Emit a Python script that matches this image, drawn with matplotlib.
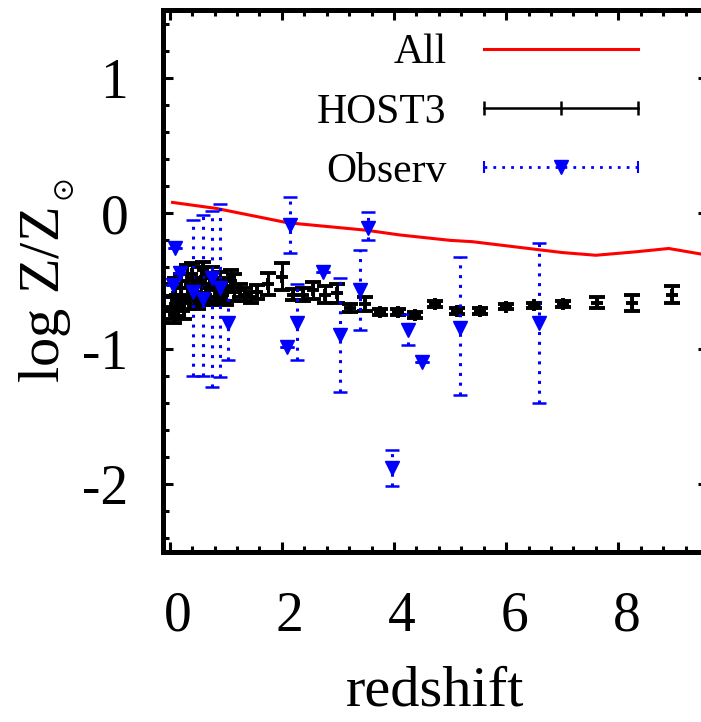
import matplotlib
matplotlib.use("Agg")
import matplotlib.pyplot as plt
from matplotlib.lines import Line2D
from matplotlib.legend_handler import HandlerLine2D
from matplotlib.ticker import MultipleLocator
from matplotlib.transforms import ScaledTranslation

plt.rcParams['font.family'] = ['Liberation Serif', 'DejaVu Serif']
plt.rcParams['mathtext.fontset'] = 'stix'
plt.rcParams['axes.unicode_minus'] = False

# "All" model curve
all_z = [0.05, 0.84, 2.1, 3.5, 4.1, 5.0, 5.4, 6.2, 7.0, 7.6, 8.3, 8.9, 9.6]
all_logz = [0.08, 0.035, -0.07, -0.125, -0.16, -0.2, -0.21, -0.25, -0.29, -0.31, -0.285, -0.26, -0.31]

# HOST3 with errors
host_z = [0.02, 0.05, 0.08, 0.1, 0.15, 0.2, 0.25, 0.3, 0.35, 0.4, 0.45, 0.5, 0.55,
          0.6, 0.65, 0.7, 0.75, 0.8, 0.85, 0.9, 0.95, 1.0, 1.1, 1.15, 1.25, 1.35,
          1.45, 1.55, 1.75, 2.0, 2.2, 2.38, 2.55, 2.77, 2.98, 3.21, 3.48, 3.75,
          4.07, 4.38, 4.73, 5.12, 5.54, 6.0, 6.49, 7.02, 7.62, 8.25, 8.96]
host_logz = [-0.7, -0.62, -0.75, -0.6, -0.68, -0.55, -0.72, -0.5, -0.63, -0.45, -0.58,
             -0.65, -0.5, -0.42, -0.6, -0.55, -0.48, -0.62, -0.57, -0.53, -0.6, -0.58,
             -0.5, -0.55, -0.57, -0.6, -0.62, -0.58, -0.52, -0.47, -0.6, -0.6, -0.57,
             -0.6, -0.59, -0.7, -0.67, -0.73, -0.73, -0.75, -0.67, -0.72, -0.72, -0.69,
             -0.68, -0.67, -0.66, -0.66, -0.6]
host_err = [0.08, 0.1, 0.06, 0.12, 0.08, 0.1, 0.06, 0.12, 0.08, 0.08, 0.1, 0.06, 0.1,
            0.06, 0.08, 0.1, 0.08, 0.06, 0.08, 0.1, 0.06, 0.1, 0.08, 0.1, 0.05, 0.05,
            0.04, 0.05, 0.08, 0.1, 0.04, 0.05, 0.06, 0.06, 0.07, 0.03, 0.05, 0.02,
            0.02, 0.02, 0.02, 0.02, 0.02, 0.02, 0.02, 0.02, 0.04, 0.06, 0.06]

# Observations (lower / upper errors)
obs_z = [0.05, 0.09, 0.18, 0.41, 0.59, 0.75, 0.89, 1.04, 2.09, 2.14, 2.27, 2.73,
         3.04, 3.39, 3.54, 3.96, 4.25, 4.5, 5.18, 6.59]
obs_logz = [-0.53, -0.26, -0.44, -0.58, -0.63, -0.48, -0.55, -0.81, -0.99, -0.09,
            -0.81, -0.43, -0.9, -0.57, -0.11, -1.88, -0.86, -1.1, -0.85, -0.81]
obs_lo = [0, 0, 0, 0.62, 0.57, 0.8, 0.66, 0.27, 0, 0.2, 0.27, 0, 0.42, 0.29, 0.09,
          0.13, 0.11, 0, 0.49, 0.59]
obs_hi = [0, 0, 0, 0.53, 0.62, 0.5, 0.62, 0.23, 0, 0.21, 0.29, 0, 0.42, 0.3, 0.12,
          0.13, 0.12, 0, 0.53, 0.59]

fig = plt.figure(figsize=(7.01, 7.22), dpi=100)
ax = fig.add_axes([163 / 701, 170 / 722, 545 / 701, 542 / 722])

ax.plot(all_z, all_logz, color='red', lw=2.2)
ax.errorbar(host_z, host_logz, yerr=host_err, fmt='+', color='black', ms=8, mew=2.8,
            elinewidth=2.2, capsize=6, capthick=2.2)
obs = ax.errorbar(obs_z, obs_logz, yerr=[obs_lo, obs_hi], fmt='v', color='blue', ms=10,
                  elinewidth=2.2, capsize=5, capthick=1.8)
for bc in obs[2]:
    bc.set_linestyle((0, (1, 2.2)))

# gnuplot-like key
h_all = Line2D([], [], color='red', lw=2.2)
h_host = Line2D([], [], color='black', lw=1.8, marker='|', ms=10, mew=1.8)
h_obs_line = Line2D([], [], color='blue', lw=2.0, ls=(0, (1, 2.2)), marker='|', ms=8, mew=1.5)
h_obs_mark = Line2D([], [], color='blue', ls='none', marker='v', ms=10)
ax.legend([h_all, h_host, (h_obs_line, h_obs_mark)], ['All', 'HOST3', 'Observ'],
          handler_map={h_host: HandlerLine2D(numpoints=3, marker_pad=0),
                       h_obs_line: HandlerLine2D(numpoints=2, marker_pad=0),
                       h_obs_mark: HandlerLine2D(numpoints=1)},
          loc='upper right', bbox_to_anchor=(0.872, 0.956), frameon=False, fontsize=30,
          handlelength=3.7, handletextpad=0.9, labelspacing=0.5, markerfirst=False,
          borderpad=0, borderaxespad=0)

ax.set_xlim(-0.12, 9.6)
ax.set_ylim(-2.5, 1.5)
ax.xaxis.set_major_locator(MultipleLocator(2))
ax.xaxis.set_minor_locator(MultipleLocator(0.4))
ax.yaxis.set_major_locator(MultipleLocator(1))
ax.yaxis.set_minor_locator(MultipleLocator(0.2))
ax.tick_params(which='both', direction='in', top=True, right=True, width=2.2)
ax.tick_params(which='major', length=7, labelsize=40)
ax.tick_params(which='minor', length=4)
ax.tick_params(axis='x', which='major', pad=28)
ax.tick_params(axis='y', which='major', pad=25)
for s in ax.spines.values():
    s.set_linewidth(3.6)

for lab in ax.get_xticklabels():
    lab.set_transform(lab.get_transform() + ScaledTranslation(8 / 100, 0, fig.dpi_scale_trans))

ax.set_xlabel('redshift', fontsize=42, labelpad=16)
ax.set_ylabel(r'log Z/Z$_{_\odot}$', fontsize=42)
ax.yaxis.set_label_coords(-0.16, 0.5)

fig.savefig('out.png', dpi=100)
